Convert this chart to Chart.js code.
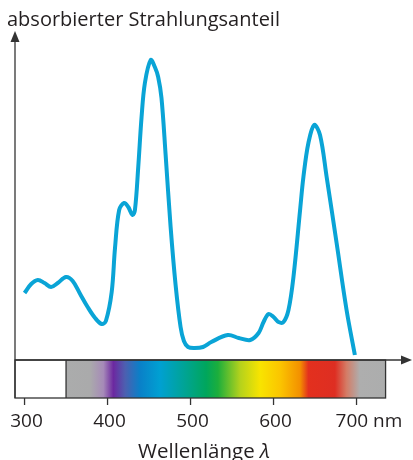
<!DOCTYPE html>
<html>
<head>
<meta charset="utf-8">
<script src="https://cdn.jsdelivr.net/npm/chart.js@4"></script>
<style>
html,body{margin:0;padding:0;background:#fff;}
#wrap{width:413px;height:460px;}
</style>
</head>
<body>
<div id="wrap"><canvas id="myChart"></canvas></div>
<script>
const wavelengths = [300,308,316,324,332,340,350,358,367,376,385,393,398,405,409,414,420,425,430,433,437,441,445,452,457,461,465,470,476,482,488,492,497,505,515,525,545,558,572,582,588,594,600,606,612,618,624,632,636,642,649,656,664,676,688,698];
const absorption  = [67,76,80,77,73,77,83,79,66,53,42,36,39,68,112,150,157,153,145,150,193,243,277,300,293,283,262,205,133,75,33,19,13,12,13,18,25,22,20,27,38,46,43,38,38,50,83,150,183,217,235,225,183,117,50,5];

const tickValues = [300,400,500,600,700];
const tickLabels = ['300','400','500','600','700 nm'];

const spectrumRange = [350,735];
const spectrumStops = [
  [350,'#abacac'],[379,'#aaaaab'],[395,'#a68ab8'],[407,'#6c28a0'],[421,'#4d5fb0'],
  [439,'#0a80c8'],[463,'#00a0d2'],[495,'#00a490'],[519,'#00a65c'],[533,'#1cae3c'],
  [560,'#b5d21c'],[584,'#f8e400'],[608,'#fbc500'],[632,'#f39000'],[642,'#e3301e'],
  [674,'#de2e22'],[688,'#d47c66'],[704,'#aeaeae'],[735,'#acadad']
];

const axisColor = '#333';
const fontName = '"Open Sans", sans-serif';

function arrowHead(ctx, x, y, dir){
  ctx.beginPath();
  if(dir === 'up'){
    ctx.moveTo(x, y); ctx.lineTo(x-4.5, y+11); ctx.lineTo(x+4.5, y+11);
  } else {
    ctx.moveTo(x, y); ctx.lineTo(x-11, y-4.5); ctx.lineTo(x-11, y+4.5);
  }
  ctx.closePath();
  ctx.fill();
}

const frame = {
  id: 'frame',
  beforeDatasetsDraw(chart){
    const {ctx, chartArea, scales} = chart;
    const xs = scales.x, ys = scales.y;
    const x0 = chartArea.left;
    const y0 = ys.getPixelForValue(0);
    const boxBottom = y0 + 38;
    const sx1 = xs.getPixelForValue(spectrumRange[0]);
    const sx2 = xs.getPixelForValue(spectrumRange[1]);

    ctx.save();
    // Spektrum
    const grad = ctx.createLinearGradient(sx1, 0, sx2, 0);
    spectrumStops.forEach(s => {
      grad.addColorStop((s[0]-spectrumRange[0])/(spectrumRange[1]-spectrumRange[0]), s[1]);
    });
    ctx.fillStyle = grad;
    ctx.fillRect(sx1, y0, sx2-sx1, boxBottom-y0);

    ctx.strokeStyle = axisColor;
    ctx.fillStyle = axisColor;
    ctx.lineWidth = 1.3;
    ctx.strokeRect(x0, y0, sx2-x0, boxBottom-y0);
    ctx.beginPath();
    ctx.moveTo(sx1, y0); ctx.lineTo(sx1, boxBottom);
    ctx.stroke();

    // y-Achse
    ctx.beginPath();
    ctx.moveTo(x0, boxBottom); ctx.lineTo(x0, chartArea.top);
    ctx.stroke();
    arrowHead(ctx, x0, chartArea.top-9, 'up');

    // x-Achse
    ctx.beginPath();
    ctx.moveTo(x0, y0); ctx.lineTo(chart.width-8, y0);
    ctx.stroke();
    arrowHead(ctx, chart.width-1, y0, 'right');

    // Teilstriche
    tickValues.forEach(v => {
      const px = xs.getPixelForValue(v);
      ctx.beginPath();
      ctx.moveTo(px, boxBottom); ctx.lineTo(px, boxBottom+7);
      ctx.stroke();
    });
    ctx.restore();
  },
  afterDraw(chart){
    const {ctx, scales} = chart;
    const xs = scales.x;
    ctx.save();
    ctx.fillStyle = '#231f20';
    ctx.textBaseline = 'alphabetic';

    ctx.font = '20px ' + fontName;
    ctx.textAlign = 'left';
    ctx.fillText('absorbierter Strahlungsanteil', 7, 26);

    ctx.font = '19px ' + fontName;
    tickValues.forEach((v, i) => {
      const px = xs.getPixelForValue(v);
      if(i === tickValues.length-1){
        ctx.textAlign = 'left';
        ctx.fillText(tickLabels[i], px-21, 427);
      } else {
        ctx.textAlign = 'center';
        ctx.fillText(tickLabels[i], px+2, 427);
      }
    });

    // Achsentitel mit kursivem Lambda
    const t1 = 'Wellenlänge ';
    ctx.font = '20.5px ' + fontName;
    const w1 = ctx.measureText(t1).width;
    ctx.font = 'italic 20.5px ' + fontName;
    const w2 = ctx.measureText('λ').width;
    const start = 204 - (w1+w2)/2;
    ctx.textAlign = 'left';
    ctx.font = '20.5px ' + fontName;
    ctx.fillText(t1, start, 458);
    ctx.font = 'italic 20.5px ' + fontName;
    ctx.fillText('λ', start+w1, 458);
    ctx.restore();
  }
};

const ctx = document.getElementById('myChart').getContext('2d');
const chart = new Chart(ctx, {
  type: 'line',
  data: {
    datasets: [{
      label: 'absorbierter Strahlungsanteil',
      data: wavelengths.map((w, i) => ({x: w, y: absorption[i]})),
      borderColor: '#0aa4d6',
      borderWidth: 4,
      pointRadius: 0,
      fill: false,
      tension: 0.35
    }]
  },
  options: {
    responsive: true,
    maintainAspectRatio: false,
    animation: false,
    layout: {padding: {left: 15, right: 8, top: 40, bottom: 100}},
    plugins: {legend: {display: false}, tooltip: {enabled: false}},
    scales: {
      x: {type: 'linear', min: 288.5, max: 758.4, display: false},
      y: {min: 0, max: 320, display: false}
    }
  },
  plugins: [frame]
});
</script>
</body>
</html>
